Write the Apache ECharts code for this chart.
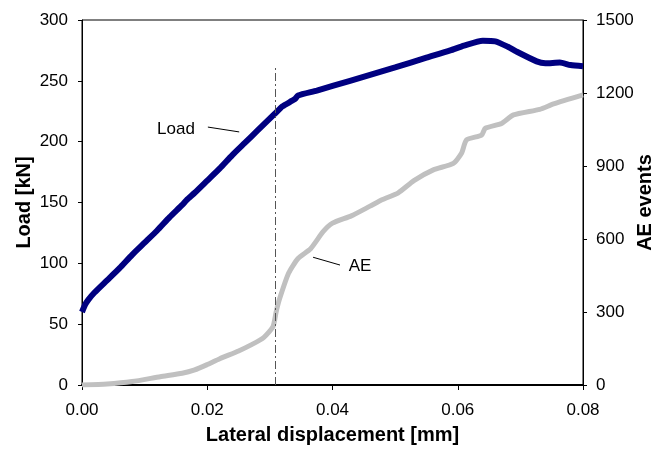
<!DOCTYPE html>
<html>
<head>
<meta charset="utf-8">
<script src="https://cdn.jsdelivr.net/npm/echarts@6/dist/echarts.min.js"></script>
<style>
    html, body { margin: 0; padding: 0; background: #fff; }
    #chart { width: 668px; height: 451px; }
</style>
</head>
<body>
<div id="chart"></div>
<script>
// load curve (left axis, kN)
var loadX = [0, 0.0005, 0.001, 0.002, 0.004, 0.006, 0.008, 0.010, 0.012, 0.014, 0.016, 0.0167, 0.018, 0.020,
    0.022, 0.024, 0.026, 0.028, 0.0308, 0.032, 0.034, 0.0345, 0.0375, 0.0428, 0.050, 0.055, 0.0588, 0.061,
    0.064, 0.066, 0.068, 0.0694, 0.0726, 0.074, 0.0763, 0.078, 0.080];
var loadY = [60, 66, 70, 76, 86, 96, 107, 117, 127, 138, 148, 152, 158, 168,
    178, 189, 199, 209, 223, 229, 235, 238, 242, 250, 261, 269, 275, 279,
    283, 282.5, 278, 274, 266, 264.5, 265, 263, 262];

// AE events (right axis)
var aeX = [0, 0.004, 0.008, 0.0125, 0.016, 0.018, 0.020, 0.022, 0.025, 0.027, 0.029, 0.0305, 0.031, 0.0315,
    0.033, 0.0345, 0.0365, 0.0385, 0.040, 0.043, 0.046, 0.048, 0.0505, 0.053, 0.0561, 0.0593, 0.0606, 0.0614,
    0.0638, 0.0644, 0.067, 0.0689, 0.0731, 0.0753, 0.080];
var aeY = [0, 4, 14, 34, 48, 62, 84, 108, 140, 165, 195, 240, 300, 350,
    460, 520, 560, 630, 665, 695, 735, 762, 790, 840, 884, 911, 952, 1007,
    1027, 1055, 1075, 1110, 1133, 1155, 1192];

var markX = 0.0308;   // dash-dot line position
var markTop = 261;

function pairs(xs, ys) {
    var out = [];
    for (var i = 0; i < xs.length; i++) out.push([xs[i], ys[i]]);
    return out;
}

var tickFont = { fontFamily: 'Liberation Sans', fontSize: 17, color: '#000' };
var nameFont = { fontFamily: 'Liberation Sans', fontSize: 20, fontWeight: 'bold', color: '#000' };

var myChart = echarts.init(document.getElementById('chart'));
var option = {
    animation: false,
    grid: {
        left: 82, right: 85, top: 20, bottom: 66,
        outerBoundsMode: 'none', containLabel: false,
        show: true, borderColor: '#000', borderWidth: 1
    },
    xAxis: {
        type: 'value', min: 0, max: 0.08, interval: 0.02,
        name: 'Lateral displacement [mm]', nameLocation: 'middle', nameGap: 40,
        nameMoveOverlap: false,
        nameTextStyle: nameFont,
        axisLine: { show: true, lineStyle: { color: '#000', width: 2 } },
        axisTick: { show: true, length: 5, lineStyle: { color: '#000' } },
        axisLabel: Object.assign({ margin: 17, formatter: function (v) { return v.toFixed(2); } }, tickFont),
        splitLine: { show: false }
    },
    yAxis: [{
        type: 'value', min: 0, max: 300, interval: 50,
        name: 'Load [kN]', nameLocation: 'middle', nameGap: 48,
        nameMoveOverlap: false,
        nameTextStyle: nameFont,
        axisLine: { show: true, lineStyle: { color: '#000', width: 1 } },
        axisTick: { show: true, length: 4, lineStyle: { color: '#000' } },
        axisLabel: Object.assign({ margin: 14 }, tickFont),
        splitLine: { show: false }
    }, {
        type: 'value', min: 0, max: 1500, interval: 300, position: 'right',
        name: 'AE events', nameLocation: 'middle', nameGap: 52,
        nameMoveOverlap: false,
        nameTextStyle: nameFont,
        axisLine: { show: true, lineStyle: { color: '#000', width: 1 } },
        axisTick: { show: true, length: 4, lineStyle: { color: '#000' } },
        axisLabel: Object.assign({ margin: 13, formatter: function (v) { return String(v); } }, tickFont),
        splitLine: { show: false }
    }],
    series: [{
        name: 'AE',
        type: 'line',
        yAxisIndex: 1,
        data: pairs(aeX, aeY),
        showSymbol: false,
        smooth: 0.2,
        lineStyle: { color: '#c0c0c0', width: 5 },
        markLine: {
            silent: true, symbol: 'none', label: { show: false },
            lineStyle: { color: '#000', width: 1, type: 'solid' },
            data: [[{ coord: [0.0369, 525] }, { coord: [0.0412, 493] }]]
        },
        markPoint: {
            symbol: 'rect', symbolSize: 1, itemStyle: { color: 'rgba(0,0,0,0)' },
            label: Object.assign({ show: true, position: 'inside', formatter: 'AE' }, tickFont),
            data: [{ coord: [0.0444, 487] }]
        }
    }, {
        name: 'Load',
        type: 'line',
        yAxisIndex: 0,
        data: pairs(loadX, loadY),
        showSymbol: false,
        smooth: 0.2,
        lineStyle: { color: '#000080', width: 6 },
        markLine: {
            silent: true, symbol: 'none', label: { show: false },
            data: [
                [{ coord: [markX, 0], lineStyle: { color: '#555', width: 1, type: [8, 3, 2, 3] } },
                 { coord: [markX, markTop] }],
                [{ coord: [0.0201, 212], lineStyle: { color: '#000', width: 1, type: 'solid' } },
                 { coord: [0.0251, 208] }]
            ]
        },
        markPoint: {
            symbol: 'rect', symbolSize: 1, itemStyle: { color: 'rgba(0,0,0,0)' },
            label: Object.assign({ show: true, position: 'inside', formatter: 'Load' }, tickFont),
            data: [{ coord: [0.0150, 210] }]
        }
    }]
};
myChart.setOption(option);
</script>
</body>
</html>
